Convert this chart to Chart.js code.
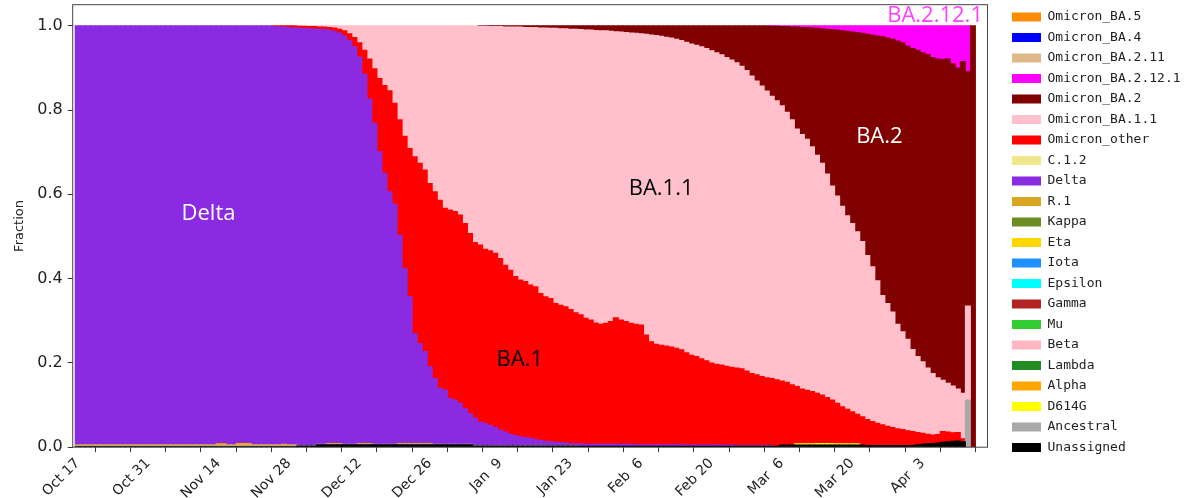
<!DOCTYPE html>
<html>
<head>
<meta charset="utf-8">
<script src="https://cdn.jsdelivr.net/npm/chart.js@4.4.1/dist/chart.umd.min.js"></script>
<style>
  html, body { margin: 0; padding: 0; background: #fff; }
</style>
</head>
<body>
<canvas id="lineageChart" width="1202" height="498"></canvas>
<script>
// one bar per day, day 0 = Oct 17
const tickDays = [0, 7, 14, 21, 28, 35, 42, 49, 56, 63, 70, 77, 84, 91, 98, 105, 112, 119, 126, 133, 140, 147, 154, 161, 168, 175];
const tickLabels = ["Oct 17", "Oct 31", "Nov 14", "Nov 28", "Dec 12", "Dec 26", "Jan  9", "Jan 23", "Feb  6", "Feb 20", "Mar  6", "Mar 20", "Apr  3"];
const yTicks = [0, 0.2, 0.4, 0.6, 0.8, 1.0];

const unassigned = [
    0.001, 0.001, 0.001, 0.001, 0.001, 0.001, 0.001, 0.001, 0.001, 0.001,
    0.001, 0.001, 0.001, 0.001, 0.001, 0.001, 0.001, 0.001, 0.001, 0.001,
    0.001, 0.001, 0.001, 0.001, 0.001, 0.001, 0.001, 0.001, 0.001, 0.001,
    0.001, 0.001, 0.001, 0.001, 0.001, 0.001, 0.001, 0.001, 0.001, 0.001,
    0.001, 0.001, 0.001, 0.001, 0.003, 0.003, 0.003, 0.003, 0.006, 0.006,
    0.006, 0.006, 0.006, 0.006, 0.006, 0.006, 0.006, 0.006, 0.006, 0.006,
    0.006, 0.006, 0.006, 0.006, 0.006, 0.006, 0.006, 0.006, 0.006, 0.006,
    0.006, 0.006, 0.006, 0.006, 0.006, 0.006, 0.006, 0.006, 0.006, 0.003,
    0.003, 0.003, 0.003, 0.003, 0.003, 0.003, 0.003, 0.003, 0.003, 0.003,
    0.003, 0.003, 0.003, 0.003, 0.003, 0.003, 0.003, 0.003, 0.003, 0.003,
    0.002, 0.002, 0.002, 0.002, 0.002, 0.002, 0.002, 0.002, 0.002, 0.002,
    0.002, 0.002, 0.002, 0.002, 0.002, 0.002, 0.002, 0.002, 0.002, 0.002,
    0.002, 0.002, 0.002, 0.002, 0.002, 0.002, 0.002, 0.002, 0.002, 0.002,
    0.002, 0.002, 0.002, 0.002, 0.002, 0.002, 0.002, 0.002, 0.002, 0.002,
    0.005, 0.005, 0.005, 0.005, 0.005, 0.005, 0.005, 0.005, 0.005, 0.005,
    0.005, 0.005, 0.005, 0.005, 0.005, 0.005, 0.005, 0.004, 0.004, 0.004,
    0.004, 0.004, 0.004, 0.004, 0.004, 0.004, 0.004, 0.006, 0.007, 0.008,
    0.009, 0.010, 0.012, 0.013, 0.014, 0.015, 0.013, 0, 0,
];
const ancestral = [
    0.003, 0.003, 0.003, 0.003, 0.003, 0.003, 0.003, 0.003, 0.003, 0.003,
    0.003, 0.003, 0.003, 0.003, 0.003, 0.003, 0.003, 0.003, 0.003, 0.003,
    0.003, 0.003, 0.003, 0.003, 0.003, 0.003, 0.003, 0.003, 0.003, 0.003,
    0.003, 0.003, 0.003, 0.003, 0.003, 0.003, 0.003, 0.003, 0.003, 0.003,
    0.003, 0.003, 0.003, 0.003, 0.001, 0.001, 0.001, 0.001, 0.001, 0.001,
    0.001, 0.001, 0.001, 0.001, 0.001, 0.001, 0.001, 0.001, 0.001, 0.001,
    0.001, 0.001, 0.001, 0.001, 0.001, 0.001, 0.001, 0.001, 0.001, 0.001,
    0.001, 0.001, 0.001, 0.001, 0.001, 0.001, 0.001, 0.001, 0.001, 0.001,
    0.001, 0.001, 0.001, 0.001, 0.001, 0.001, 0.001, 0.001, 0.001, 0.001,
    0.001, 0.001, 0.001, 0.001, 0.001, 0.001, 0.001, 0.001, 0.001, 0.001,
    0, 0, 0, 0, 0, 0, 0, 0, 0, 0,
    0, 0, 0, 0, 0, 0, 0, 0, 0, 0,
    0, 0, 0, 0, 0, 0, 0, 0, 0, 0,
    0, 0, 0, 0, 0, 0, 0, 0, 0, 0,
    0, 0, 0, 0, 0, 0, 0, 0, 0, 0,
    0, 0, 0, 0, 0, 0, 0, 0, 0, 0,
    0, 0, 0, 0, 0, 0, 0, 0, 0, 0,
    0, 0, 0, 0, 0, 0, 0, 0.112, 0,
];
const d614g = [
    0, 0, 0, 0, 0, 0, 0, 0, 0, 0,
    0, 0, 0, 0, 0, 0, 0, 0, 0, 0,
    0, 0, 0, 0, 0, 0, 0, 0, 0, 0,
    0, 0, 0, 0, 0, 0, 0, 0, 0, 0,
    0, 0, 0, 0, 0, 0, 0, 0, 0, 0,
    0, 0, 0, 0, 0, 0, 0, 0, 0, 0,
    0, 0, 0, 0, 0, 0, 0, 0, 0, 0,
    0, 0, 0, 0, 0, 0, 0, 0, 0, 0,
    0, 0, 0, 0, 0, 0, 0, 0, 0, 0,
    0, 0, 0, 0, 0, 0, 0, 0, 0, 0,
    0, 0, 0, 0, 0, 0, 0, 0, 0, 0,
    0, 0, 0, 0, 0, 0, 0, 0, 0, 0,
    0, 0, 0, 0, 0, 0, 0, 0, 0, 0,
    0, 0, 0, 0, 0, 0, 0, 0, 0, 0,
    0, 0, 0, 0.003, 0.003, 0.003, 0.003, 0.004, 0.004, 0.004,
    0.004, 0.003, 0.003, 0.003, 0.003, 0.003,
];
const alpha = [
    0.002, 0.002, 0.002, 0.002, 0.002, 0.002, 0.002, 0.002, 0.002, 0.002,
    0.002, 0.002, 0.002, 0.002, 0.002, 0.002, 0.002, 0.002, 0.002, 0.002,
    0.002, 0.002, 0.002, 0.002, 0.002, 0.002, 0.002, 0.002, 0.004, 0.004,
    0.002, 0.002, 0.005, 0.005, 0.005, 0.002, 0.002, 0.002, 0.002, 0.002,
    0.002, 0.003, 0.002, 0.002, 0, 0, 0, 0, 0, 0,
    0.002, 0.002, 0.002, 0, 0, 0, 0.002, 0.002, 0.002, 0,
    0, 0, 0, 0, 0.002, 0.002, 0.002, 0.002, 0.002, 0.002,
    0.002,
];
const delta = [
    0.994, 0.994, 0.994, 0.994, 0.994, 0.994, 0.994, 0.994, 0.994, 0.994,
    0.994, 0.994, 0.994, 0.994, 0.994, 0.994, 0.994, 0.994, 0.994, 0.994,
    0.994, 0.994, 0.994, 0.994, 0.994, 0.994, 0.994, 0.994, 0.992, 0.992,
    0.994, 0.994, 0.991, 0.991, 0.991, 0.994, 0.994, 0.994, 0.994, 0.992,
    0.991, 0.990, 0.990, 0.989, 0.991, 0.990, 0.989, 0.989, 0.985, 0.984,
    0.981, 0.978, 0.974, 0.969, 0.958, 0.943, 0.917, 0.876, 0.817, 0.761,
    0.694, 0.643, 0.599, 0.570, 0.494, 0.415, 0.348, 0.261, 0.237, 0.218,
    0.182, 0.156, 0.133, 0.129, 0.109, 0.105, 0.097, 0.085, 0.073, 0.065,
    0.056, 0.052, 0.048, 0.043, 0.037, 0.032, 0.027, 0.024, 0.021, 0.019,
    0.017, 0.014, 0.012, 0.010, 0.009, 0.008, 0.007, 0.006, 0.005, 0.004,
    0.006, 0.005, 0.005, 0.005, 0.005, 0.005, 0.005, 0.005, 0.005, 0.005,
    0.005, 0.004, 0.004, 0.004, 0.004, 0.004, 0.004, 0.004, 0.004, 0.004,
    0.004, 0.003, 0.003, 0.003, 0.003, 0.003, 0.003, 0.003, 0.003, 0.003,
    0.003, 0.002, 0.002, 0.002, 0.002, 0.002, 0.002, 0.002, 0.002,
];
const omicronOther = [
    0, 0, 0, 0, 0, 0, 0, 0, 0, 0,
    0, 0, 0, 0, 0, 0, 0, 0, 0, 0,
    0, 0, 0, 0, 0, 0, 0, 0, 0, 0,
    0, 0, 0, 0, 0, 0, 0, 0, 0, 0.002,
    0.003, 0.003, 0.004, 0.005, 0.004, 0.005, 0.005, 0.005, 0.005, 0.006,
    0.006, 0.008, 0.009, 0.012, 0.016, 0.022, 0.034, 0.057, 0.095, 0.130,
    0.174, 0.208, 0.240, 0.239, 0.274, 0.314, 0.352, 0.419, 0.428, 0.431,
    0.435, 0.443, 0.446, 0.431, 0.447, 0.447, 0.447, 0.439, 0.427, 0.417,
    0.420, 0.414, 0.414, 0.413, 0.407, 0.396, 0.389, 0.377, 0.372, 0.370,
    0.364, 0.363, 0.349, 0.343, 0.340, 0.329, 0.326, 0.323, 0.318, 0.311,
    0.306, 0.299, 0.295, 0.288, 0.285, 0.287, 0.291, 0.300, 0.295, 0.291,
    0.287, 0.286, 0.284, 0.260, 0.244, 0.238, 0.236, 0.234, 0.232, 0.229,
    0.225, 0.219, 0.213, 0.210, 0.205, 0.200, 0.195, 0.192, 0.190, 0.187,
    0.185, 0.184, 0.182, 0.177, 0.171, 0.168, 0.164, 0.161, 0.159, 0.158,
    0.152, 0.149, 0.143, 0.136, 0.130, 0.127, 0.124, 0.119, 0.115, 0.109,
    0.103, 0.096, 0.088, 0.082, 0.076, 0.070, 0.067, 0.062, 0.057, 0.053,
    0.049, 0.046, 0.043, 0.040, 0.038, 0.035, 0.033, 0.029, 0.026, 0.023,
    0.020, 0.020, 0.025, 0.023, 0.020, 0.020, 0.007,
];
const ba11 = [
    0, 0, 0, 0, 0, 0, 0, 0, 0, 0,
    0, 0, 0, 0, 0, 0, 0, 0, 0, 0,
    0, 0, 0, 0, 0, 0, 0, 0, 0, 0,
    0, 0, 0, 0, 0, 0, 0, 0, 0, 0,
    0, 0, 0, 0, 0.001, 0.001, 0.002, 0.002, 0.003, 0.003,
    0.004, 0.005, 0.008, 0.012, 0.019, 0.028, 0.040, 0.058, 0.079, 0.102,
    0.125, 0.142, 0.154, 0.184, 0.223, 0.262, 0.291, 0.311, 0.326, 0.342,
    0.374, 0.394, 0.414, 0.433, 0.437, 0.441, 0.449, 0.469, 0.493, 0.514,
    0.519, 0.529, 0.532, 0.538, 0.550, 0.565, 0.577, 0.592, 0.600, 0.603,
    0.611, 0.615, 0.630, 0.638, 0.641, 0.653, 0.656, 0.660, 0.665, 0.673,
    0.677, 0.684, 0.688, 0.694, 0.696, 0.694, 0.689, 0.679, 0.683, 0.686,
    0.689, 0.690, 0.691, 0.714, 0.728, 0.733, 0.733, 0.733, 0.733, 0.733,
    0.734, 0.737, 0.739, 0.739, 0.740, 0.741, 0.741, 0.739, 0.736, 0.733,
    0.729, 0.724, 0.718, 0.713, 0.706, 0.697, 0.689, 0.680, 0.670, 0.662,
    0.653, 0.641, 0.629, 0.611, 0.604, 0.596, 0.581, 0.565, 0.550, 0.530,
    0.508, 0.492, 0.476, 0.459, 0.447, 0.433, 0.416, 0.389, 0.367, 0.338,
    0.307, 0.291, 0.274, 0.248, 0.232, 0.217, 0.195, 0.180, 0.170, 0.157,
    0.146, 0.135, 0.122, 0.116, 0.111, 0.103, 0.108, 0.223,
];
const ba2 = [
    0, 0, 0, 0, 0, 0, 0, 0, 0, 0,
    0, 0, 0, 0, 0, 0, 0, 0, 0, 0,
    0, 0, 0, 0, 0, 0, 0, 0, 0, 0,
    0, 0, 0, 0, 0, 0, 0, 0, 0, 0,
    0, 0, 0, 0, 0, 0, 0, 0, 0, 0,
    0, 0, 0, 0, 0, 0, 0, 0, 0, 0,
    0, 0, 0, 0, 0, 0, 0, 0, 0, 0,
    0, 0, 0, 0, 0, 0, 0, 0, 0, 0,
    0.001, 0.001, 0.002, 0.002, 0.002, 0.003, 0.003, 0.003, 0.003, 0.004,
    0.004, 0.004, 0.005, 0.005, 0.006, 0.006, 0.007, 0.007, 0.008, 0.008,
    0.009, 0.010, 0.010, 0.011, 0.012, 0.012, 0.013, 0.014, 0.015, 0.016,
    0.017, 0.018, 0.019, 0.020, 0.022, 0.023, 0.025, 0.027, 0.029, 0.032,
    0.035, 0.039, 0.043, 0.046, 0.050, 0.054, 0.059, 0.064, 0.069, 0.075,
    0.081, 0.088, 0.096, 0.106, 0.119, 0.131, 0.143, 0.155, 0.166, 0.177,
    0.188, 0.203, 0.220, 0.242, 0.254, 0.265, 0.282, 0.301, 0.319, 0.344,
    0.371, 0.394, 0.416, 0.438, 0.454, 0.473, 0.494, 0.525, 0.550, 0.581,
    0.614, 0.630, 0.647, 0.672, 0.686, 0.696, 0.714, 0.727, 0.733, 0.744,
    0.750, 0.756, 0.761, 0.770, 0.765, 0.762, 0.787, 0.556, 1.000,
];
const ba2121 = [
    0, 0, 0, 0, 0, 0, 0, 0, 0, 0,
    0, 0, 0, 0, 0, 0, 0, 0, 0, 0,
    0, 0, 0, 0, 0, 0, 0, 0, 0, 0,
    0, 0, 0, 0, 0, 0, 0, 0, 0, 0,
    0, 0, 0, 0, 0, 0, 0, 0, 0, 0,
    0, 0, 0, 0, 0, 0, 0, 0, 0, 0,
    0, 0, 0, 0, 0, 0, 0, 0, 0, 0,
    0, 0, 0, 0, 0, 0, 0, 0, 0, 0,
    0, 0, 0, 0, 0, 0, 0, 0, 0, 0,
    0, 0, 0, 0, 0, 0, 0, 0, 0, 0,
    0, 0, 0, 0, 0, 0, 0, 0, 0, 0,
    0, 0, 0, 0, 0, 0, 0, 0, 0, 0,
    0, 0, 0, 0, 0, 0, 0, 0, 0, 0,
    0, 0, 0, 0, 0, 0, 0, 0, 0.001, 0.001,
    0.002, 0.002, 0.003, 0.003, 0.004, 0.004, 0.005, 0.006, 0.007, 0.008,
    0.009, 0.010, 0.012, 0.013, 0.015, 0.016, 0.018, 0.020, 0.022, 0.024,
    0.026, 0.029, 0.032, 0.036, 0.040, 0.048, 0.054, 0.058, 0.064, 0.068,
    0.075, 0.079, 0.080, 0.078, 0.090, 0.100, 0.085, 0.109,
];
const days = ba2.map((_, i) => i);

// bottom of the stack first
const lineages = [
    { label: "Unassigned", color: "#000000", values: unassigned },
    { label: "Ancestral", color: "#a9a9a9", values: ancestral },
    { label: "D614G", color: "#ffff00", values: d614g },
    { label: "Alpha", color: "#ffa500", values: alpha },
    { label: "Lambda", color: "#228b22", values: [] },
    { label: "Beta", color: "#ffb6c1", values: [] },
    { label: "Mu", color: "#32cd32", values: [] },
    { label: "Gamma", color: "#b22222", values: [] },
    { label: "Epsilon", color: "#00ffff", values: [] },
    { label: "Iota", color: "#1e90ff", values: [] },
    { label: "Eta", color: "#ffd700", values: [] },
    { label: "Kappa", color: "#6b8e23", values: [] },
    { label: "R.1", color: "#daa520", values: [] },
    { label: "Delta", color: "#8a2be2", values: delta },
    { label: "C.1.2", color: "#f0e68c", values: [] },
    { label: "Omicron_other", color: "#ff0000", values: omicronOther },
    { label: "Omicron_BA.1.1", color: "#ffc0cb", values: ba11 },
    { label: "Omicron_BA.2", color: "#800000", values: ba2 },
    { label: "Omicron_BA.2.12.1", color: "#ff00ff", values: ba2121 },
    { label: "Omicron_BA.2.11", color: "#deb887", values: [] },
    { label: "Omicron_BA.4", color: "#0000ff", values: [] },
    { label: "Omicron_BA.5", color: "#ff8c00", values: [] },
];

// text written over the areas
const regionLabels = [
    { text: "Delta", day: 26, value: 0.539, color: "#ffffff", align: "center" },
    { text: "BA.1", day: 87.9, value: 0.193, color: "#000000", align: "center" },
    { text: "BA.1.1", day: 116, value: 0.598, color: "#000000", align: "center" },
    { text: "BA.2", day: 159.4, value: 0.721, color: "#ffffff", align: "center" },
    { text: "BA.2.12.1", day: 180, value: 1.0095, color: "#ff40ff", align: "right" },
];

const framePlugin = {
    id: "frame",
    afterDatasetsDraw(chart) {
        const { ctx, chartArea } = chart;
        ctx.save();
        ctx.strokeStyle = "#444";
        ctx.lineWidth = 1;
        ctx.strokeRect(chartArea.left, chartArea.top, chartArea.right - chartArea.left, chartArea.bottom - chartArea.top);
        ctx.restore();
    },
};

const regionLabelPlugin = {
    id: "regionLabels",
    afterDraw(chart) {
        const { ctx, scales } = chart;
        ctx.save();
        ctx.font = '22px "Open Sans"';
        ctx.textBaseline = "alphabetic";
        regionLabels.forEach((l) => {
            ctx.fillStyle = l.color;
            ctx.textAlign = l.align;
            ctx.fillText(l.text, scales.x.getPixelForValue(l.day), scales.y.getPixelForValue(l.value));
        });
        ctx.restore();
    },
};

Chart.defaults.font.family = "DejaVu Sans";
Chart.defaults.color = "#222";

const config = {
    type: "bar",
    data: {
        labels: days,
        datasets: lineages.map((l) => ({
            label: l.label,
            data: l.values.map((v) => (v > 0 ? v : null)),
            backgroundColor: l.color,
            borderWidth: 0,
            barPercentage: 1,
            categoryPercentage: 1,
            inflateAmount: 0.5,
        })),
    },
    options: {
        responsive: false,
        animation: false,
        layout: { padding: { top: 3, right: -6, bottom: 0, left: 0 } },
        plugins: {
            tooltip: { enabled: false },
            legend: {
                position: "right",
                align: "start",
                reverse: true,
                labels: {
                    boxWidth: 29,
                    boxHeight: 9,
                    padding: 7.5,
                    color: "#222",
                    font: { family: "DejaVu Sans Mono", size: 13 },
                },
            },
        },
        scales: {
            x: {
                type: "linear",
                stacked: true,
                offset: false,
                min: -1,
                max: 180.9,
                afterBuildTicks: (scale) => {
                    scale.ticks = tickDays.map((v) => ({ value: v }));
                },
                afterFit: (scale) => {
                    scale.height = 50.8;
                    scale.paddingRight = 214.5;
                },
                ticks: {
                    autoSkip: false,
                    maxRotation: 45,
                    minRotation: 45,
                    padding: 3,
                    font: { size: 14 },
                    callback: (v) => (v % 14 === 0 ? tickLabels[v / 14] : ""),
                },
                grid: { drawOnChartArea: false, tickLength: 5, tickColor: "#333" },
                border: { display: false },
            },
            y: {
                type: "linear",
                stacked: true,
                min: 0,
                max: 1.05,
                afterBuildTicks: (scale) => {
                    scale.ticks = yTicks.map((v) => ({ value: v }));
                },
                afterFit: (scale) => {
                    scale.width = 72.7;
                    scale.paddingTop = 4.7;
                },
                ticks: {
                    padding: 5,
                    font: { size: 16 },
                    callback: (v) => v.toFixed(1),
                },
                title: {
                    display: true,
                    text: "Fraction",
                    font: { size: 13 },
                    padding: { top: 12, bottom: 0 },
                },
                grid: { drawOnChartArea: false, tickLength: 5, tickColor: "#333" },
                border: { display: false },
            },
            // empty strip between the plot and the legend
            gap: {
                type: "linear",
                position: "right",
                display: true,
                afterFit: (scale) => {
                    scale.width = 17;
                },
                ticks: { display: false },
                grid: { display: false },
                border: { display: false },
            },
        },
    },
    plugins: [framePlugin, regionLabelPlugin],
};

new Chart(document.getElementById("lineageChart"), config);
</script>
</body>
</html>
